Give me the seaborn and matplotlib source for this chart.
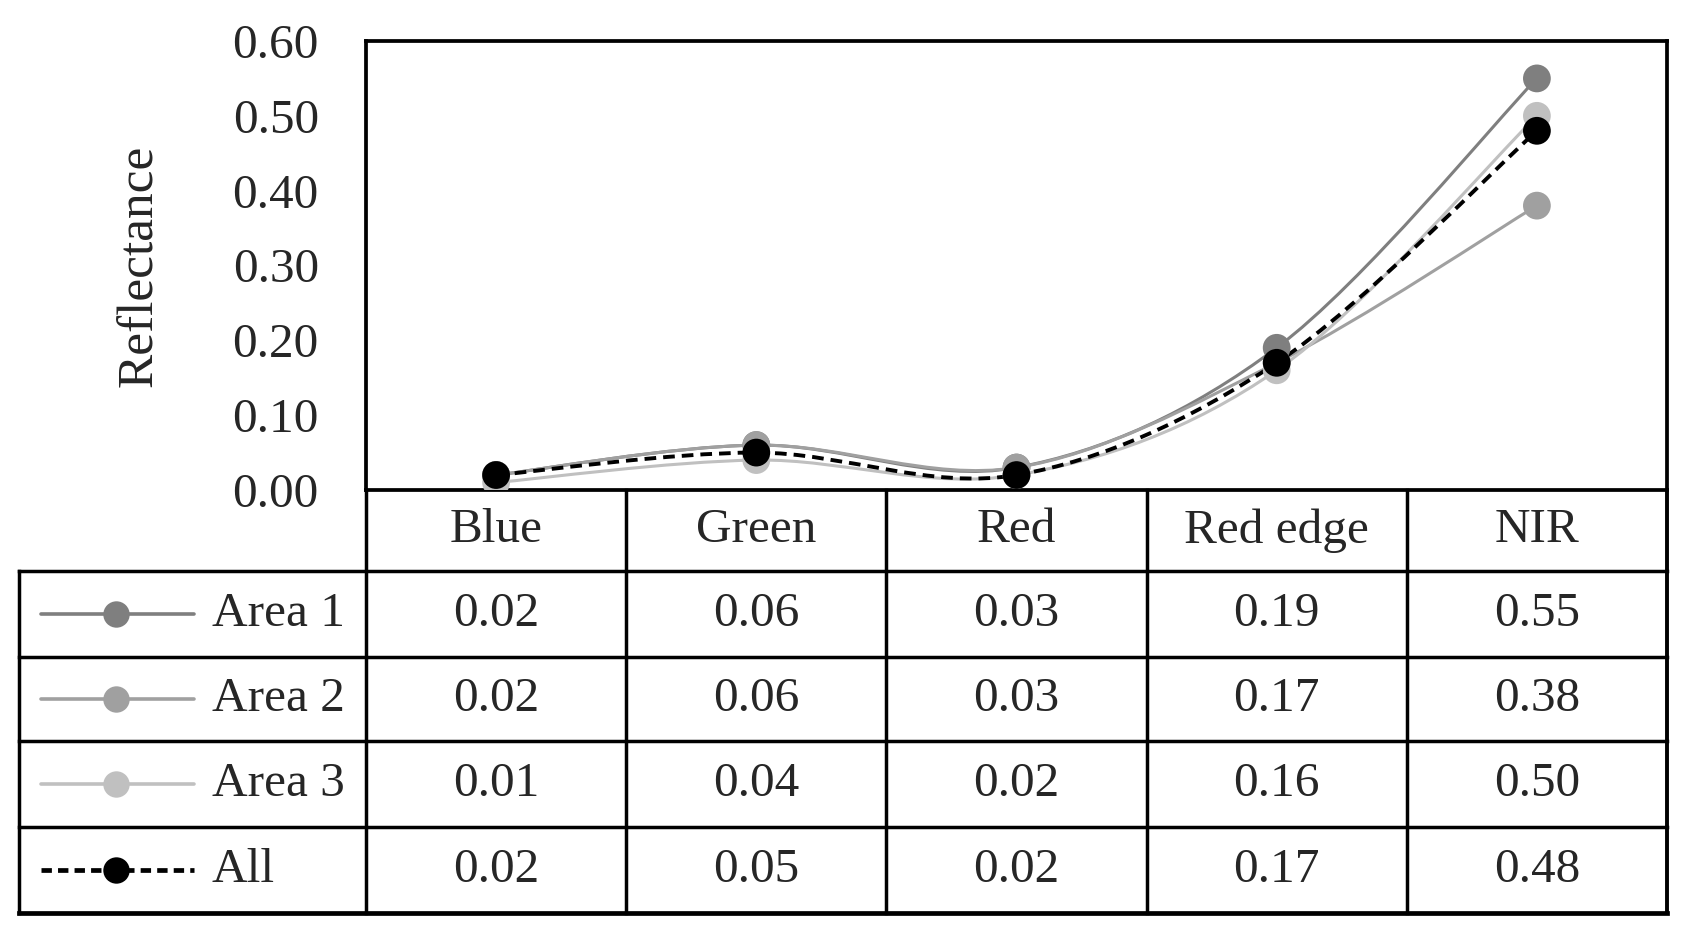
import numpy as np
import pandas as pd
import matplotlib.pyplot as plt
import seaborn as sns
from matplotlib.path import Path
from matplotlib.patches import PathPatch

bands = ['Blue', 'Green', 'Red', 'Red edge', 'NIR']
area1 = [0.02, 0.06, 0.03, 0.19, 0.55]
area2 = [0.02, 0.06, 0.03, 0.17, 0.38]
area3 = [0.01, 0.04, 0.02, 0.16, 0.50]
area_all = [0.02, 0.05, 0.02, 0.17, 0.48]
series_names = ['Area 1', 'Area 2', 'Area 3', 'All']
series_vals = [area1, area2, area3, area_all]
colors = ['#7f7f7f', '#a0a0a0', '#c0c0c0', '#000000']
styles = ['-', '-', '-', '--']

sns.set_style('white')
plt.rcParams['font.family'] = ['Liberation Serif', 'DejaVu Serif']
FS = 35.5

df = pd.DataFrame({
    'band': bands * len(series_names),
    'series': np.repeat(series_names, len(bands)),
    'value': np.concatenate(series_vals),
})

W, H = 1689, 936
fig = plt.figure(figsize=(W / 100, H / 100), dpi=100)

# pixel geometry of plot area and table
ax_l, ax_r, ax_t, ax_b = 366, 1667, 41, 490
tab_l, tab_b = 19, 913
row_edges = [490, 571, 657, 741, 827, 913]

ax = fig.add_axes([ax_l / W, 1 - ax_b / H, (ax_r - ax_l) / W, (ax_b - ax_t) / H])


def smooth_path(ys):
    # Excel-like smoothed line: cubic Bezier through the points
    pts = np.column_stack([np.arange(len(ys)), ys]).astype(float)
    n = len(pts)
    verts = [pts[0]]
    codes = [Path.MOVETO]
    for i in range(n - 1):
        p0 = pts[max(i - 1, 0)]
        p1 = pts[i]
        p2 = pts[i + 1]
        p3 = pts[min(i + 2, n - 1)]
        verts += [p1 + (p2 - p0) / 6, p2 - (p3 - p1) / 6, p2]
        codes += [Path.CURVE4] * 3
    return Path(verts, codes)


sns.scatterplot(data=df, x='band', y='value', hue='series', palette=colors,
                s=400, linewidth=0, legend=False, ax=ax, zorder=3)

for vals, c, ls in zip(series_vals, colors, styles):
    patch = PathPatch(smooth_path(vals), fill=False, edgecolor=c,
                      lw=2.8 if ls == '--' else 2.2, zorder=2)
    if ls == '--':
        patch.set_linestyle((0, (3.0, 1.8)))
    ax.add_patch(patch)

ax.set_xlim(-0.5, len(bands) - 0.5)
ax.set_ylim(0, 0.6)
ax.set_yticks(np.arange(0, 0.61, 0.1))
ax.set_yticklabels([f'{t:.2f}' for t in np.arange(0, 0.61, 0.1)], fontsize=FS)
ax.set_xticks([])
ax.set_xlabel('')
ax.set_ylabel('Reflectance', fontsize=FS + 1.5)
ax.yaxis.set_label_coords((163 - ax_l) / (ax_r - ax_l), 0.5)
ax.tick_params(axis='y', direction='in', length=11.5, width=2.2, pad=34)
for sp in ax.spines.values():
    sp.set_linewidth(2.7)
    sp.set_color('black')

# data table below the plot
unit = (ax_r - ax_l) / len(bands)
x_left = -0.5 - (ax_l - tab_l) / unit
tab = fig.add_axes([tab_l / W, 1 - tab_b / H, (ax_r - tab_l) / W, (tab_b - ax_b) / H])
tab.set_xlim(x_left, len(bands) - 0.5)
tab.set_ylim(tab_b, ax_b)
tab.axis('off')

lw_t = 2.5
for k in range(len(bands) + 1):
    tab.plot([k - 0.5, k - 0.5], [row_edges[0], row_edges[-1]], color='black',
             lw=lw_t if k < len(bands) else 2.8, clip_on=False, solid_capstyle='projecting')
tab.plot([x_left, x_left], [row_edges[1], row_edges[-1]], color='black', lw=lw_t,
         clip_on=False, solid_capstyle='projecting')
for j, yy in enumerate(row_edges[1:]):
    tab.plot([x_left, len(bands) - 0.5], [yy, yy], color='black',
             lw=3.4 if j == len(row_edges) - 2 else lw_t, clip_on=False,
             solid_capstyle='projecting')

for i, b in enumerate(bands):
    tab.text(i, (row_edges[0] + row_edges[1]) / 2, b, ha='center', va='center', fontsize=FS)

for r, (name, vals, c, ls) in enumerate(zip(series_names, series_vals, colors, styles)):
    yc = (row_edges[r + 1] + row_edges[r + 2]) / 2
    for i, v in enumerate(vals):
        tab.text(i, yc, f'{v:.2f}', ha='center', va='center', fontsize=FS)
    x0 = x_left + (41 - tab_l) / unit
    x1 = x_left + (194 - tab_l) / unit
    xm = x_left + (116 - tab_l) / unit
    if ls == '--':
        tab.plot([x0, x1], [yc, yc], color=c, lw=3.4, linestyle=(0, (2.2, 1.3)), clip_on=False)
    else:
        tab.plot([x0, x1], [yc, yc], color=c, lw=2.6, clip_on=False)
    tab.plot([xm], [yc], marker='o', markersize=19, color=c, markeredgewidth=0, clip_on=False)
    tab.text(x_left + (212 - tab_l) / unit, yc, name, ha='left', va='center', fontsize=FS)

fig.savefig('out.png', dpi=100)
